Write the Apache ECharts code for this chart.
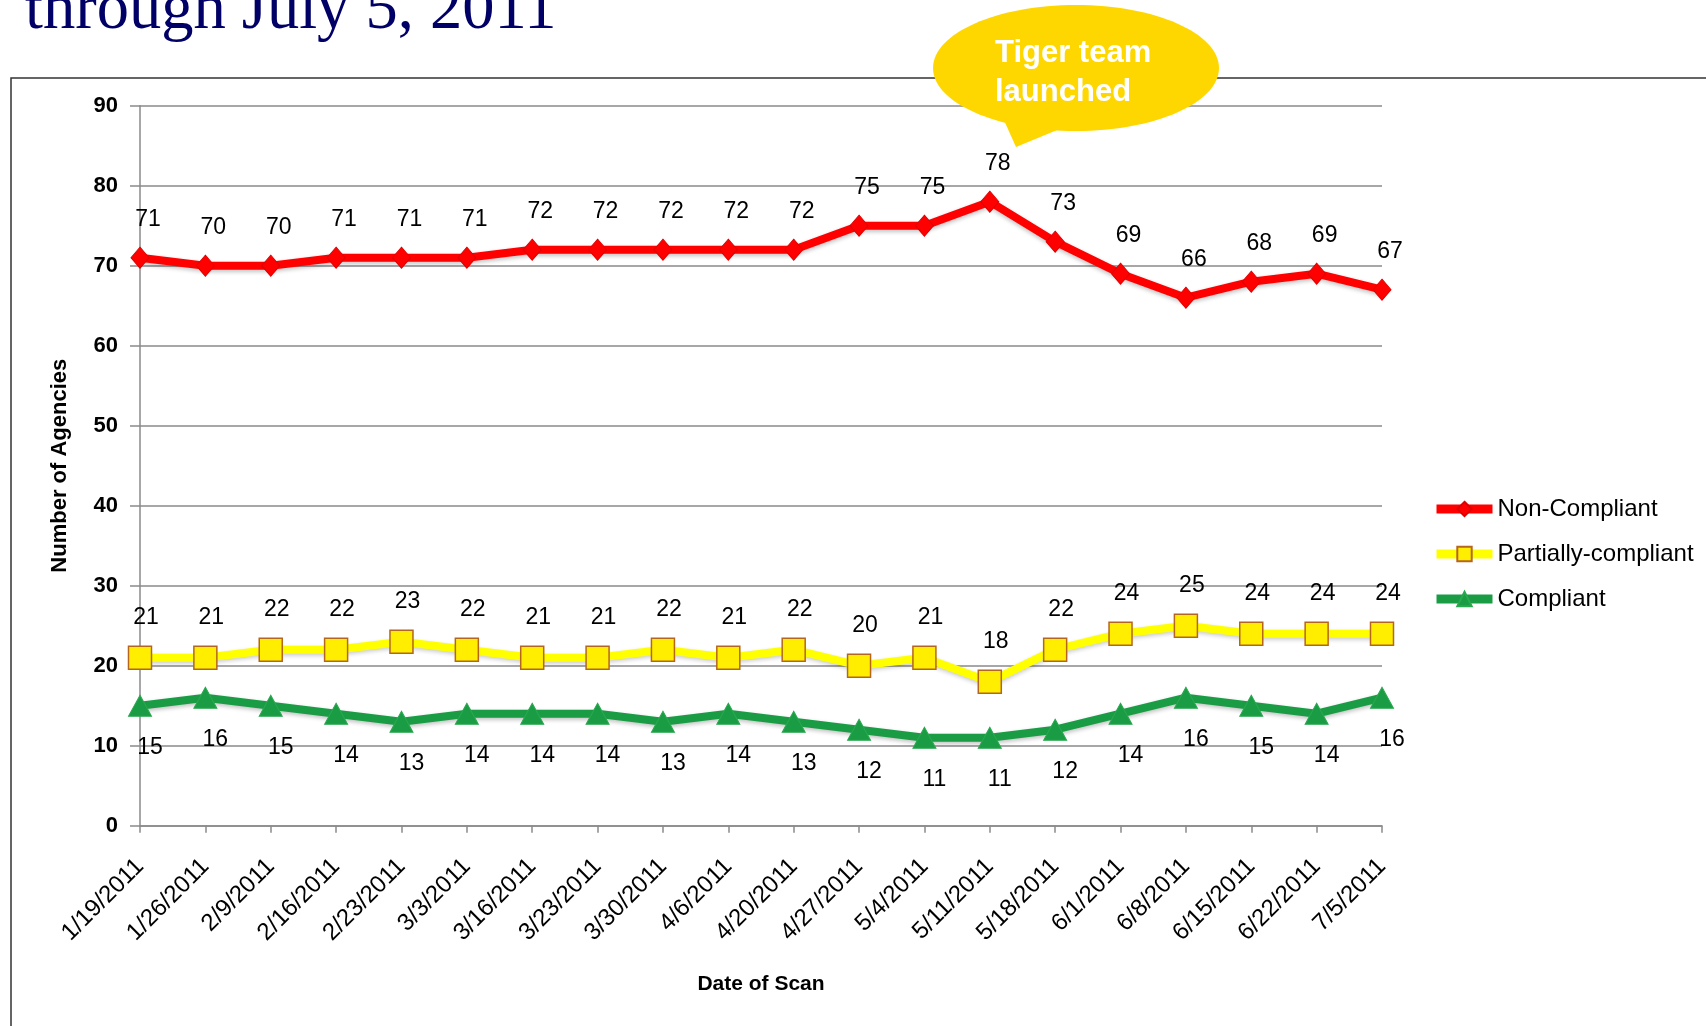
<!DOCTYPE html>
<html>
<head>
<meta charset="utf-8">
<script src="https://cdn.jsdelivr.net/npm/echarts@6/dist/echarts.min.js"></script>
<style>
html,body{margin:0;padding:0;background:#fff;}
#chart{width:1706px;height:1026px;}
</style>
</head>
<body>
<div id="chart"></div>
<script>
const categories = ['1/19/2011','1/26/2011','2/9/2011','2/16/2011','2/23/2011','3/3/2011','3/16/2011','3/23/2011','3/30/2011','4/6/2011','4/20/2011','4/27/2011','5/4/2011','5/11/2011','5/18/2011','6/1/2011','6/8/2011','6/15/2011','6/22/2011','7/5/2011'];
const nonCompliant = [71,70,70,71,71,71,72,72,72,72,72,75,75,78,73,69,66,68,69,67];
const partiallyCompliant = [21,21,22,22,23,22,21,21,22,21,22,20,21,18,22,24,25,24,24,24];
const compliant = [15,16,15,14,13,14,14,14,13,14,13,12,11,11,12,14,16,15,14,16];
const yMin = 0, yMax = 90, yStep = 10;

const FONT = '"Liberation Sans", Arial, sans-serif';
const chart = echarts.init(document.getElementById('chart'));

function labelCfg(dx, dy) {
  return {
    show: true, position: 'inside', offset: [dx, dy],
    fontFamily: FONT, fontSize: 23, color: '#000'
  };
}

chart.setOption({
  animation: false,
  backgroundColor: '#fff',
  grid: { left: 140, right: 324, top: 105.7, bottom: 200.3, containLabel: false },
  legend: {
    orient: 'vertical', left: 1427, top: 492,
    itemWidth: 56, itemHeight: 18, itemGap: 21,
    data: ['Non-Compliant', 'Partially-compliant', 'Compliant'],
    textStyle: { fontFamily: FONT, fontSize: 24, color: '#000' },
    lineStyle: { width: 9 }
  },
  xAxis: {
    type: 'category', data: categories, boundaryGap: false,
    name: 'Date of Scan', nameLocation: 'middle', nameGap: 148,
    nameTextStyle: { fontFamily: FONT, fontSize: 21, fontWeight: 'bold', color: '#000' },
    axisLine: { lineStyle: { color: '#8a8a8a', width: 1.5 } },
    axisTick: { show: true, alignWithLabel: true, length: 7, lineStyle: { color: '#8a8a8a', width: 1.5 } },
    axisLabel: { interval: 0, rotate: 45, margin: 37, fontFamily: FONT, fontSize: 24, color: '#000' },
    splitLine: { show: false }
  },
  yAxis: {
    type: 'value', min: yMin, max: yMax, interval: yStep,
    name: 'Number of Agencies', nameLocation: 'middle', nameRotate: 90, nameGap: 69,
    nameTextStyle: { fontFamily: FONT, fontSize: 22, fontWeight: 'bold', color: '#000' },
    axisLine: { show: true, lineStyle: { color: '#8a8a8a', width: 1.5 } },
    axisTick: { show: true, length: 10, lineStyle: { color: '#8a8a8a', width: 1.5 } },
    axisLabel: { margin: 22, fontFamily: FONT, fontSize: 22, fontWeight: 'bold', color: '#000' },
    splitLine: { show: true, lineStyle: { color: '#8a8a8a', width: 1.5 } }
  },
  series: [
    {
      name: 'Non-Compliant', type: 'line', data: nonCompliant,
      symbol: 'diamond', symbolSize: [18, 21],
      lineStyle: { color: '#ff0000', width: 8, shadowColor: 'rgba(0,0,0,0.25)', shadowBlur: 4, shadowOffsetY: 2 },
      itemStyle: { color: '#ff0000', borderColor: '#e00000', borderWidth: 1 },
      label: labelCfg(8, -38), z: 4
    },
    {
      name: 'Partially-compliant', type: 'line', data: partiallyCompliant,
      symbol: 'rect', symbolSize: 23,
      lineStyle: { color: '#ffff00', width: 8, shadowColor: 'rgba(0,0,0,0.2)', shadowBlur: 4, shadowOffsetY: 2 },
      itemStyle: { color: '#ffee00', borderColor: '#b5651d', borderWidth: 1.5 },
      label: labelCfg(6, -40), z: 3
    },
    {
      name: 'Compliant', type: 'line', data: compliant,
      symbol: 'triangle', symbolSize: [23, 21],
      lineStyle: { color: '#1a9c45', width: 8, shadowColor: 'rgba(0,0,0,0.25)', shadowBlur: 4, shadowOffsetY: 2 },
      itemStyle: { color: '#1a9c45', borderColor: '#2aa84f', borderWidth: 1 },
      label: labelCfg(10, 42), z: 3
    }
  ],
  graphic: [
    { type: 'rect', z: 0, silent: true,
      shape: { x: 11, y: 78, width: 1800, height: 1100 },
      style: { fill: 'none', stroke: '#333', lineWidth: 1.5 } },
    { type: 'text', z: 10, silent: true, left: 25, top: -21,
      style: { text: 'through July 5, 2011', font: '64.5px "Liberation Serif", "Times New Roman", serif', fill: '#000066' } },
    { type: 'ellipse', z: 20, silent: true,
      shape: { cx: 1076, cy: 68, rx: 143, ry: 63 },
      style: { fill: '#ffd700' } },
    { type: 'polygon', z: 20, silent: true,
      shape: { points: [[1003, 118], [1016, 147], [1062, 128]] },
      style: { fill: '#ffd700' } },
    { type: 'text', z: 21, silent: true,
      style: { x: 995, y: 53, text: 'Tiger team', verticalAlign: 'middle', font: 'bold 31px "Liberation Sans", Arial, sans-serif', fill: '#fff' } },
    { type: 'text', z: 21, silent: true,
      style: { x: 995, y: 92, text: 'launched', verticalAlign: 'middle', font: 'bold 31px "Liberation Sans", Arial, sans-serif', fill: '#fff' } }
  ]
});
</script>
</body>
</html>
